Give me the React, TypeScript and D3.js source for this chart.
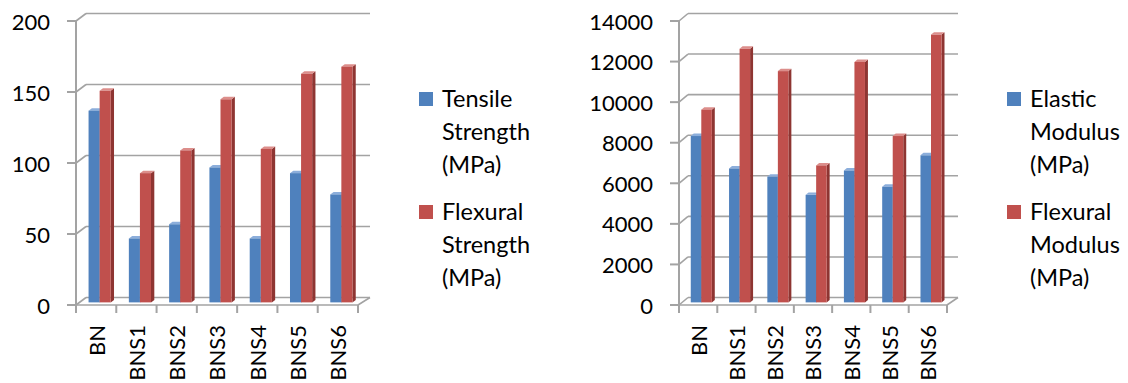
import React from 'react';
import * as d3 from 'd3';

// Mechanical properties of the BN composites
const categories = ['BN', 'BNS1', 'BNS2', 'BNS3', 'BNS4', 'BNS5', 'BNS6'];
const tensileStrength = [135, 45, 55, 95, 45, 91, 76];
const flexuralStrength = [149, 91, 107, 143, 108, 161, 166];
const elasticModulus = [8200, 6600, 6200, 5300, 6500, 5700, 7250];
const flexuralModulus = [9500, 12500, 11400, 6750, 11850, 8200, 13200];

const strengthTicks = [0, 50, 100, 150, 200];
const modulusTicks = [0, 2000, 4000, 6000, 8000, 10000, 12000, 14000];

const strengthLegend = [
  ['Tensile', 'Strength', '(MPa)'],
  ['Flexural', 'Strength', '(MPa)'],
];
const modulusLegend = [
  ['Elastic', 'Modulus', '(MPa)'],
  ['Flexural', 'Modulus', '(MPa)'],
];

const FONT = 'Lato, "Open Sans", sans-serif';
const GRID = '#a3a3a3';

const palette = [
  { front: '#4F81BD', top: '#8CAEDB', side: '#3A6296' },
  { front: '#C0504D', top: '#DC8E8B', side: '#8E3532' },
];

type Frame = {
  frontLeft: number;
  frontRight: number;
  backLeft: number;
  backRight: number;
  yTop: number;
  yBottom: number;
  depthY: number;
};

type ChartProps = {
  frame: Frame;
  ticks: number[];
  series: number[][];
  legend: string[][];
  legendX: number;
};

function Chart3D({ frame, ticks, series, legend, legendX }: ChartProps) {
  const { frontLeft, frontRight, backLeft, backRight, yTop, yBottom, depthY } = frame;
  const max = ticks[ticks.length - 1];
  const y = d3.scaleLinear().domain([0, max]).range([yBottom, yTop]);
  const x = d3.scaleBand<string>().domain(categories).range([frontLeft, frontRight]);
  const bw = x.bandwidth();
  const depthX = backLeft - frontLeft;

  // bars sit in the middle slice of the floor depth
  const f0 = 0.35;
  const f1 = 0.68;
  const offX = depthX * f0;
  const offY = depthY * f0;
  const ddx = depthX * (f1 - f0);
  const ddy = depthY * (f1 - f0);
  const barW = bw * 0.275;

  const boundaries = d3.range(categories.length + 1).map((i) => frontLeft + i * bw);

  return (
    <g>
      {/* back wall gridlines */}
      {ticks.map((t) => (
        <line key={'g' + t} x1={backLeft} x2={backRight} y1={y(t) - depthY} y2={y(t) - depthY}
          stroke={GRID} strokeWidth={1.6} />
      ))}
      {/* side wall gridlines */}
      {ticks.map((t) => (
        <line key={'s' + t} x1={frontLeft} x2={backLeft} y1={y(t)} y2={y(t) - depthY}
          stroke={GRID} strokeWidth={1.6} />
      ))}
      {/* value axis */}
      <line x1={frontLeft} x2={frontLeft} y1={y(max)} y2={yBottom + 8} stroke={GRID} strokeWidth={2} />
      {ticks.map((t) => (
        <line key={'t' + t} x1={frontLeft - 9} x2={frontLeft} y1={y(t)} y2={y(t)} stroke={GRID} strokeWidth={2} />
      ))}
      {/* floor front edge */}
      <line x1={frontLeft} x2={frontRight} y1={yBottom} y2={yBottom} stroke={GRID} strokeWidth={1.6} />
      <line x1={frontRight} x2={backRight} y1={yBottom} y2={yBottom - depthY} stroke={GRID} strokeWidth={1.6} />
      {boundaries.map((bx, i) => (
        <line key={'c' + i} x1={bx} x2={bx} y1={yBottom} y2={yBottom + 8} stroke={GRID} strokeWidth={2} />
      ))}

      {/* columns */}
      {categories.map((c, i) => {
        const clusterLeft = (x(c) as number) + bw / 2 - barW + offX;
        return (
          <g key={c}>
            {series.map((vals, s) => {
              const xl = clusterLeft + s * barW;
              const xr = xl + barW;
              const yt = y(vals[i]) - offY;
              const yb = yBottom - offY;
              const col = palette[s];
              return (
                <g key={s}>
                  <polygon
                    points={`${xr},${yt} ${xr + ddx},${yt - ddy} ${xr + ddx},${yb - ddy} ${xr},${yb}`}
                    fill={col.side} />
                  <polygon
                    points={`${xl},${yt} ${xl + ddx},${yt - ddy} ${xr + ddx},${yt - ddy} ${xr},${yt}`}
                    fill={col.top} />
                  <rect x={xl} y={yt} width={barW} height={yb - yt} fill={col.front} />
                </g>
              );
            })}
          </g>
        );
      })}

      {/* value labels */}
      {ticks.map((t) => (
        <text key={'l' + t} x={frontLeft - 26} y={y(t) + 8.5} textAnchor="end"
          fontFamily={FONT} fontSize={22} fill="#000">{t}</text>
      ))}

      {/* category labels */}
      {categories.map((c) => {
        const cx = (x(c) as number) + bw / 2 + 0.5;
        return (
          <text key={'x' + c} transform={`translate(${cx},325) rotate(-90)`} dy="0.36em"
            textAnchor="end" fontFamily={FONT} fontSize={22} fill="#000">{c}</text>
        );
      })}

      {/* legend */}
      {legend.map((lines, s) => {
        const base = 107 + s * 113;
        return (
          <g key={'lg' + s}>
            <rect x={legendX} y={base - 15} width={14} height={14} fill={palette[s].front} />
            {lines.map((ln, k) => (
              <text key={k} x={legendX + 23} y={base + k * 33} fontFamily={FONT} fontSize={23.5} fill="#000">{ln}</text>
            ))}
          </g>
        );
      })}
    </g>
  );
}

export default function App() {
  return (
    <svg width={1128} height={383} style={{ position: 'absolute', left: 0, top: 0, background: '#fff' }}>
      <rect width={1128} height={383} fill="#fff" />
      <Chart3D
        frame={{ frontLeft: 76, frontRight: 358, backLeft: 86, backRight: 370, yTop: 21, yBottom: 305, depthY: 7.5 }}
        ticks={strengthTicks}
        series={[tensileStrength, flexuralStrength]}
        legend={strengthLegend}
        legendX={419}
      />
      <Chart3D
        frame={{ frontLeft: 679, frontRight: 947, backLeft: 688, backRight: 958, yTop: 21, yBottom: 305, depthY: 7.5 }}
        ticks={modulusTicks}
        series={[elasticModulus, flexuralModulus]}
        legend={modulusLegend}
        legendX={1007}
      />
    </svg>
  );
}
